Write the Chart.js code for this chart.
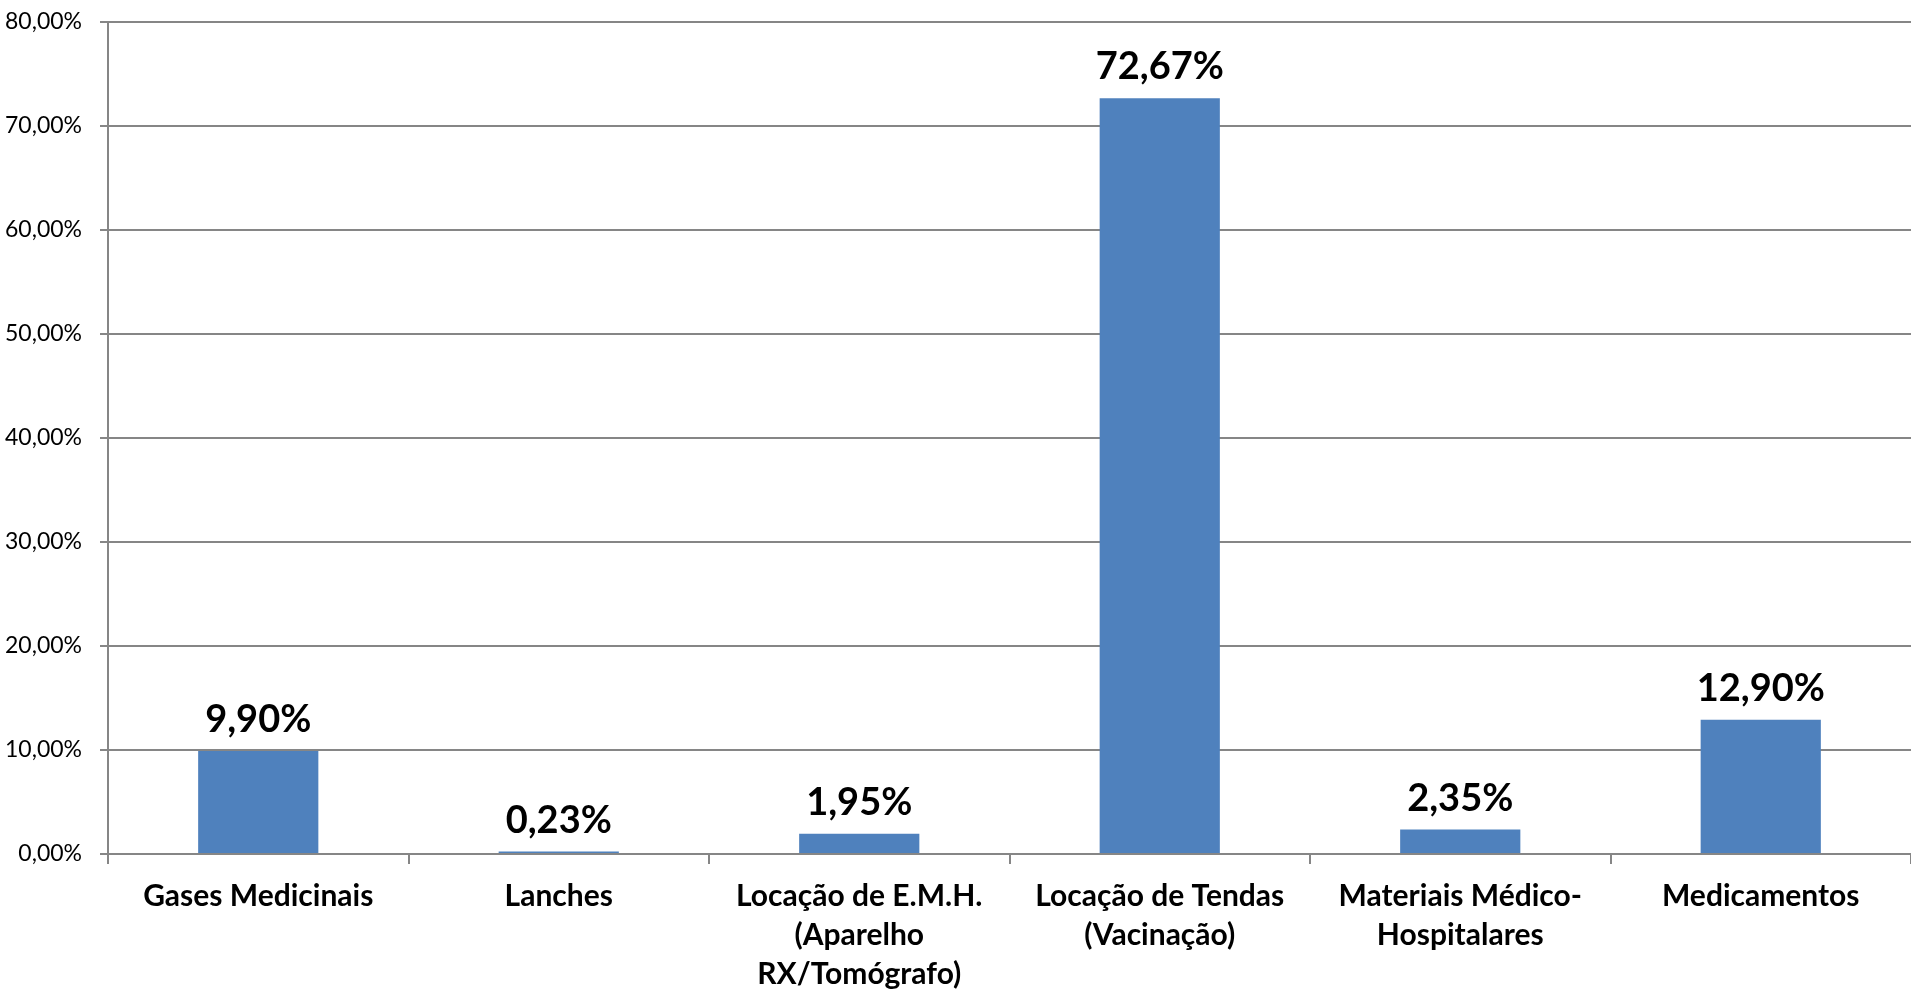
<!DOCTYPE html>
<html>
<head>
<meta charset="utf-8">
<script src="https://cdn.jsdelivr.net/npm/chart.js@4.4.1/dist/chart.umd.min.js"></script>
<style>
  html, body { margin: 0; padding: 0; background: #fff; }
  canvas { display: block; }
</style>
</head>
<body>
<canvas id="chart" width="1911" height="990"></canvas>
<script>
const categories = [
  'Gases Medicinais',
  'Lanches',
  ['Locação de E.M.H.', '(Aparelho', 'RX/Tomógrafo)'],
  ['Locação de Tendas', '(Vacinação)'],
  ['Materiais Médico-', 'Hospitalares'],
  'Medicamentos'
];
const shares = [9.90, 0.23, 1.95, 72.67, 2.35, 12.90];
const yTicks = [0, 10, 20, 30, 40, 50, 60, 70, 80];

const axisGray = '#868686';
const barBlue = '#4F81BD';

function pct(v) {
  return v.toFixed(2).replace('.', ',') + '%';
}

// writes each bar's value above it
const valueLabels = {
  id: 'valueLabels',
  afterDatasetsDraw(chart) {
    const ctx = chart.ctx;
    const meta = chart.getDatasetMeta(0);
    ctx.save();
    ctx.font = 'bold 38px Lato';
    ctx.fillStyle = '#000';
    ctx.textAlign = 'center';
    ctx.textBaseline = 'alphabetic';
    meta.data.forEach((bar, i) => {
      ctx.fillText(pct(shares[i]), bar.x, bar.y - 19);
    });
    ctx.restore();
  }
};

new Chart(document.getElementById('chart'), {
  type: 'bar',
  data: {
    labels: categories,
    datasets: [{
      data: shares,
      backgroundColor: barBlue,
      borderWidth: 0,
      categoryPercentage: 1,
      barPercentage: 0.4
    }]
  },
  options: {
    responsive: false,
    animation: false,
    layout: { padding: { top: 22, right: 0, left: 0, bottom: 0 } },
    plugins: {
      legend: { display: false },
      tooltip: { enabled: false }
    },
    scales: {
      x: {
        afterFit(scale) {
          scale.height = 136;
          scale.paddingLeft = 0;
          scale.paddingRight = 0;
        },
        border: { color: axisGray, width: 2 },
        grid: {
          offset: true,
          drawOnChartArea: false,
          drawTicks: true,
          tickLength: 10,
          color: axisGray,
          lineWidth: 2
        },
        ticks: {
          maxRotation: 0,
          autoSkip: false,
          padding: 13,
          color: '#000',
          font: { family: 'Lato', size: 30, weight: 'bold', lineHeight: 1.3 }
        }
      },
      y: {
        min: 0,
        max: 80,
        afterFit(scale) {
          scale.width = 108;
          scale.paddingTop = 0;
          scale.paddingBottom = 0;
        },
        afterBuildTicks(scale) {
          scale.ticks = yTicks.map(v => ({ value: v }));
        },
        border: { color: axisGray, width: 2 },
        grid: {
          color: axisGray,
          lineWidth: 2,
          tickLength: 8
        },
        ticks: {
          padding: 18,
          color: '#000',
          font: { family: 'Lato', size: 23 },
          callback: v => pct(v)
        }
      }
    }
  },
  plugins: [valueLabels]
});
</script>
</body>
</html>
